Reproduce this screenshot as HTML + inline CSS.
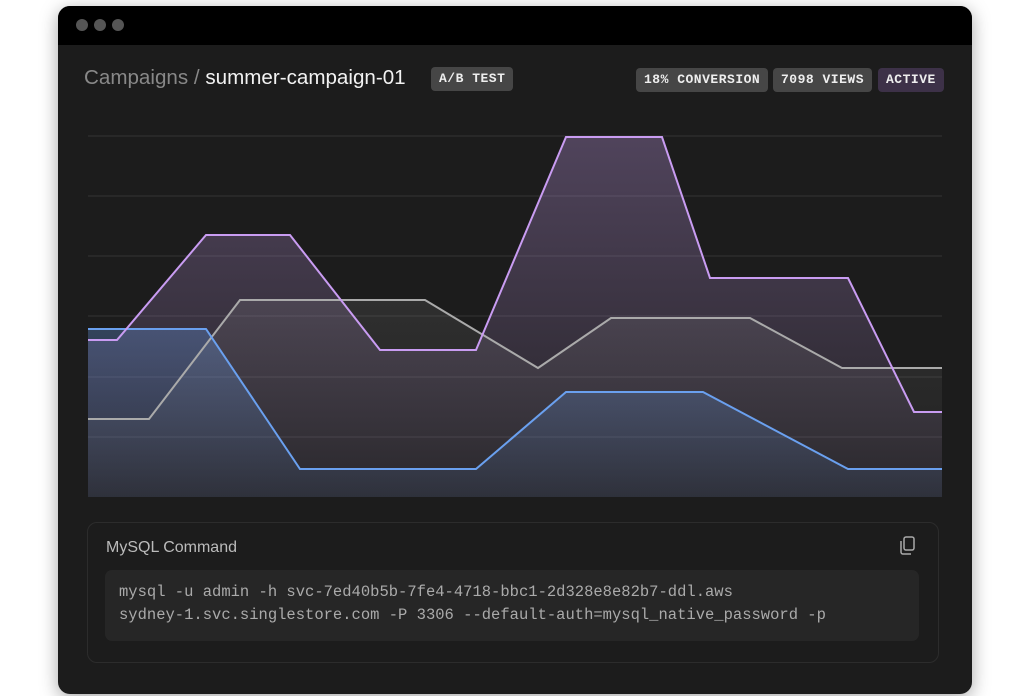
<!DOCTYPE html>
<html><head><style>
body{margin:0;width:1024px;height:696px;background:#fff;overflow:hidden;font-family:"Liberation Sans",sans-serif}
.win{position:absolute;left:58px;top:6px;width:914px;height:688px;border-radius:12px;background:#1c1c1c;overflow:hidden;box-shadow:0 4px 18px rgba(0,0,0,.35)}
.bar{height:39px;background:#000;position:relative}
.dot{position:absolute;top:13px;width:12px;height:12px;border-radius:50%;background:#555}
.title{position:absolute;left:26px;top:60px;font-size:20.6px;color:#888}
.title b{color:#f2f2f2;font-weight:normal}
.tag{position:absolute;top:62px;height:24px;line-height:24px;border-radius:4px;background:#464646;color:#eee;font-family:"Liberation Mono",monospace;font-weight:bold;font-size:13px;padding:0 8px;letter-spacing:.5px}
.card{position:absolute;left:29px;top:516px;width:850px;height:139px;border:1px solid #2c2c2c;border-radius:10px}
.ct{position:absolute;left:18px;top:16px;color:#bbb;font-size:16px}
.code{position:absolute;left:17px;top:47px;width:814px;height:71px;background:#262626;border-radius:7px;font-family:"Liberation Mono",monospace;font-size:15.5px;color:#aaa;line-height:23px;padding:11px 14px;box-sizing:border-box;white-space:pre}
</style></head><body>
<div class="win">
<div class="bar"><div class="dot" style="left:18px"></div><div class="dot" style="left:36px"></div><div class="dot" style="left:54px"></div></div>
<div class="title">Campaigns / <b>summer-campaign-01</b></div>
<div class="tag" style="left:373px;top:61px">A/B TEST</div>
<div class="tag" style="left:578px;top:62px">18% CONVERSION</div>
<div class="tag" style="left:715px;top:62px">7098 VIEWS</div>
<div class="tag" style="left:820px;top:62px;background:#3d3148">ACTIVE</div>
<svg style="position:absolute;left:0;top:0" width="914" height="510">
<defs>
<linearGradient id="gp" x1="0" y1="0" x2="0" y2="1"><stop offset="0" stop-color="#c9a0f0" stop-opacity=".3"/><stop offset="1" stop-color="#c9a0f0" stop-opacity=".05"/></linearGradient>
<linearGradient id="gg" x1="0" y1="0" x2="0" y2="1"><stop offset="0" stop-color="#bbb" stop-opacity=".12"/><stop offset="1" stop-color="#bbb" stop-opacity=".03"/></linearGradient>
<linearGradient id="gb" x1="0" y1="0" x2="0" y2="1"><stop offset="0" stop-color="#6aa0ef" stop-opacity=".3"/><stop offset="1" stop-color="#6aa0ef" stop-opacity=".08"/></linearGradient>
</defs>
<g stroke="#333" stroke-width="1">
<line x1="30" x2="884" y1="130" y2="130"/><line x1="30" x2="884" y1="190" y2="190"/><line x1="30" x2="884" y1="250" y2="250"/><line x1="30" x2="884" y1="310" y2="310"/><line x1="30" x2="884" y1="371" y2="371"/><line x1="30" x2="884" y1="431" y2="431"/>
</g>
<g transform="translate(-58,-6)">
<polygon fill="url(#gp)" points="88,340 117,340 206,235 290,235 380,350 476,350 566,137 662,137 710,278 848,278 914,412 942,412 942,497 88,497"/>
<polygon fill="url(#gg)" points="88,419 149,419 240,300 425,300 538,368 611,318 750,318 842,368 942,368 942,497 88,497"/>
<polygon fill="url(#gb)" points="88,329 206,329 300,469 476,469 566,392 703,392 848,469 942,469 942,497 88,497"/>
<polyline fill="none" stroke="#aaa" stroke-width="2" points="88,419 149,419 240,300 425,300 538,368 611,318 750,318 842,368 942,368"/>
<polyline fill="none" stroke="#6aa0ef" stroke-width="2" points="88,329 206,329 300,469 476,469 566,392 703,392 848,469 942,469"/>
<polyline fill="none" stroke="#c99cf2" stroke-width="2" points="88,340 117,340 206,235 290,235 380,350 476,350 566,137 662,137 710,278 848,278 914,412 942,412"/>
</g>
</svg>
<div class="card">
<div class="ct">MySQL Command</div>
<svg style="position:absolute;left:811px;top:13px" width="18" height="20"><rect x="5" y="1" width="10" height="13" rx="2" fill="none" stroke="#aaa" stroke-width="1.5"/><path d="M2 5v11a2 2 0 0 0 2 2h8" fill="none" stroke="#aaa" stroke-width="1.5"/></svg>
<div class="code">mysql -u admin -h svc-7ed40b5b-7fe4-4718-bbc1-2d328e8e82b7-ddl.aws
sydney-1.svc.singlestore.com -P 3306 --default-auth=mysql_native_password -p</div>
</div>
</div>
</body></html>
